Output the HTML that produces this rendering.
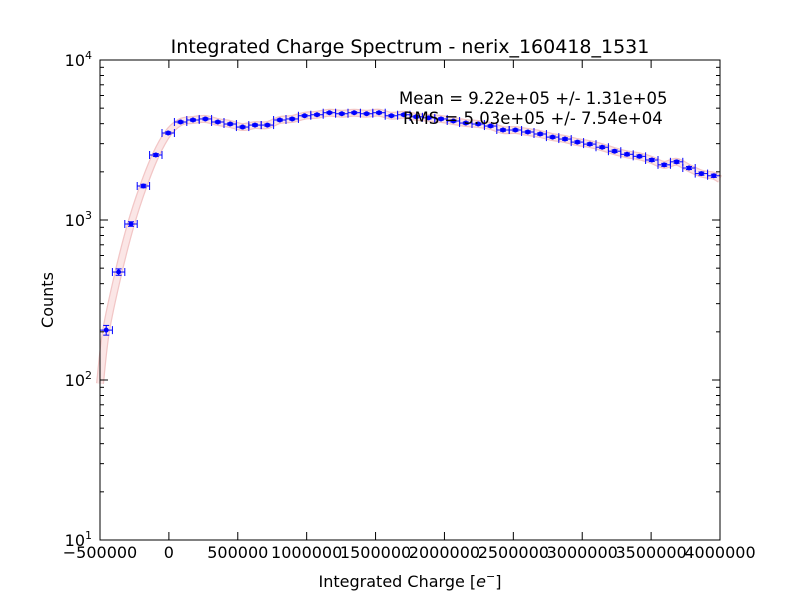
<!DOCTYPE html>
<html><head><meta charset="utf-8"><style>
body{margin:0;background:#fff;font-family:"Liberation Sans","DejaVu Sans",sans-serif}
svg text{font-family:"DejaVu Sans","Liberation Sans",sans-serif}
</style></head><body>
<svg id="chart" width="800" height="600" xmlns="http://www.w3.org/2000/svg">
<rect width="800" height="600" fill="#fff"/>
<g id="fit"></g>
<g id="pts"></g>
<rect x="100" y="60" width="620" height="480" fill="none" stroke="#000" stroke-width="1"/>
<g id="axes"></g>
<text x="410" y="53" font-size="19" text-anchor="middle">Integrated Charge Spectrum - nerix_160418_1531</text>
<text x="410" y="587" font-size="16" text-anchor="middle">Integrated Charge [<tspan font-style="italic">e</tspan><tspan font-size="11" dy="-7">−</tspan><tspan dy="7">]</tspan></text>
<text x="53" y="300" font-size="16" text-anchor="middle" transform="rotate(-90 53 300)">Counts</text>
<text x="399" y="104" font-size="16.5">Mean = 9.22e+05 +/- 1.31e+05</text>
<text x="403" y="124" font-size="16.5">RMS = 5.03e+05 +/- 7.54e+04</text>
</svg>
<script>
const binStart = -455000;
const binWidth = 90000;
const counts = [205,473,944,1631,2548,3498,4097,4217,4281,4097,3980,3810,3920,3920,4217,4281,4482,4548,4683,4615,4683,4615,4683,4482,4548,4416,4351,4281,4157,4036,3980,3866,3651,3651,3548,3447,3297,3206,3069,2981,2850,2692,2574,2500,2371,2212,2310,2113,1950,1890];
const fitEnds = [95,1800];
const xTicks = [-500000,0,500000,1000000,1500000,2000000,2500000,3000000,3500000,4000000];
const yDecades = [1,2,3,4];
const NS="http://www.w3.org/2000/svg";
const X=v=>100+(v+500000)*620/4500000;
const Y=c=>540-160*(Math.log10(c)-1);
function mk(t,a,p){const e=document.createElementNS(NS,t);for(const k in a)e.setAttribute(k,a[k]);p.appendChild(e);return e;}
const axes=document.getElementById('axes');
xTicks.forEach((v,i)=>{const x=X(v);
 mk('line',{x1:x,x2:x,y1:540,y2:532,stroke:'#000'},axes);
 mk('line',{x1:x,x2:x,y1:60,y2:68,stroke:'#000'},axes);
 const t=mk('text',{x:x,y:558,'font-size':16,'text-anchor':'middle'},axes);
 
 
 t.textContent=v<0?'−'+Math.abs(v):String(v);});
yDecades.forEach(d=>{const y=Y(Math.pow(10,d));
 mk('line',{x1:100,x2:108,y1:y,y2:y,stroke:'#000'},axes);
 mk('line',{x1:720,x2:712,y1:y,y2:y,stroke:'#000'},axes);
 const t=mk('text',{x:92,y:y+6,'font-size':16,'text-anchor':'end'},axes);
 
 
 t.innerHTML='10<tspan font-size="11" dy="-7">'+d+'</tspan>';
 if(d<4)for(let m=2;m<10;m++){const yy=Y(m*Math.pow(10,d));
  mk('line',{x1:100,x2:104,y1:yy,y2:yy,stroke:'#000'},axes);
  mk('line',{x1:720,x2:716,y1:yy,y2:yy,stroke:'#000'},axes);}});
const fp=[[X(-500000),Y(fitEnds[0])]];
counts.forEach((c,i)=>fp.push([X(binStart+i*binWidth),Y(c)]));
fp.push([X(4000000),Y(fitEnds[1])]);
let d='M'+fp[0][0]+','+fp[0][1];
for(let i=0;i<fp.length-1;i++){const p0=fp[Math.max(0,i-1)],p1=fp[i],p2=fp[i+1],p3=fp[Math.min(fp.length-1,i+2)];
 d+=` C${p1[0]+(p2[0]-p0[0])/6},${p1[1]+(p2[1]-p0[1])/6} ${p2[0]-(p3[0]-p1[0])/6},${p2[1]-(p3[1]-p1[1])/6} ${p2[0]},${p2[1]}`;}
const fit=document.getElementById('fit');
const fo=mk('path',{d:d,fill:'none',stroke:'#f2c6c6','stroke-width':8},fit);


const fl=mk('path',{d:d,fill:'none',stroke:'#fbe6e6','stroke-width':5.5},fit);


const pts=document.getElementById('pts');
counts.forEach((c,i)=>{const xc=binStart+i*binWidth,x=X(xc),y=Y(c);
 const g=mk('g',{},pts);
 
 
 const x1=X(xc-binWidth/2),x2=X(xc+binWidth/2),e=Math.sqrt(c);
 const y1=Y(c+e),y2=Y(c-e);
 mk('line',{x1:x1,x2:x2,y1:y,y2:y,stroke:'#00f'},g);
 mk('line',{x1:x1,x2:x1,y1:y-4,y2:y+4,stroke:'#00f'},g);
 mk('line',{x1:x2,x2:x2,y1:y-4,y2:y+4,stroke:'#00f'},g);
 mk('line',{x1:x,x2:x,y1:y1,y2:y2,stroke:'#00f'},g);
 mk('line',{x1:x-3,x2:x+3,y1:y1,y2:y1,stroke:'#00f'},g);
 mk('line',{x1:x-3,x2:x+3,y1:y2,y2:y2,stroke:'#00f'},g);
 mk('circle',{cx:x,cy:y,r:2.5,fill:'#00f'},g);});
</script>
</body></html>
